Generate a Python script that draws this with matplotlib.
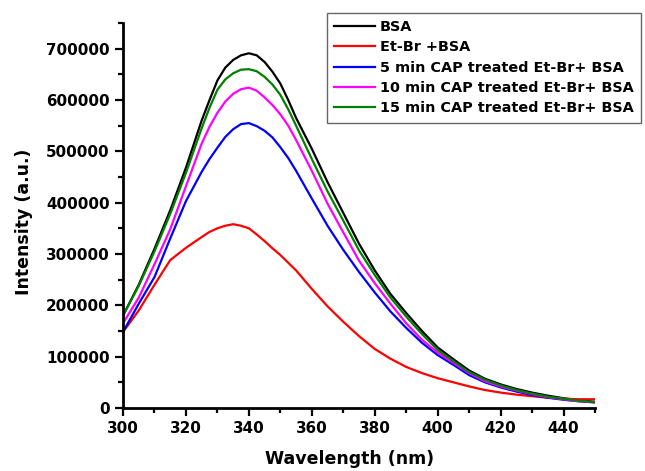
import numpy as np
import matplotlib.pyplot as plt
from matplotlib.ticker import MultipleLocator

plt.rcParams['font.family'] = ['DejaVu Sans']
plt.rcParams['font.weight'] = 'bold'

# wavelength grid (nm), finer around the maximum
wl = [300, 305, 310, 315, 320, 325, 327.5, 330, 332.5, 335, 337.5, 340, 342.5, 345,
      347.5, 350, 352.5, 355, 360, 365, 370, 375, 380, 385, 390, 395, 400, 405, 410,
      415, 420, 425, 430, 435, 440, 445, 450]

bsa = [180000, 240000, 310000, 385000, 468000, 560000, 600000, 638000, 663000, 678000,
       687000, 691000, 687000, 674000, 655000, 632000, 600000, 565000, 505000, 440000,
       380000, 320000, 268000, 222000, 185000, 150000, 118000, 95000, 73000, 57000,
       46000, 37000, 30000, 24000, 19000, 15000, 12000]
etbr = [148000, 190000, 240000, 288000, 312000, 333000, 343000, 350000, 355000, 358000,
        355000, 350000, 338000, 325000, 311000, 298000, 283000, 268000, 232000, 198000,
        168000, 140000, 115000, 96000, 80000, 68000, 58000, 50000, 42000, 35000,
        30000, 26000, 23000, 20000, 18000, 17000, 17000]
cap5 = [148000, 203000, 255000, 330000, 403000, 460000, 485000, 507000, 528000, 543000,
        553000, 555000, 549000, 540000, 527000, 508000, 487000, 462000, 408000, 355000,
        308000, 265000, 225000, 188000, 156000, 127000, 103000, 84000, 64000, 50000,
        40000, 32000, 25000, 20000, 16000, 13000, 11000]
cap10 = [165000, 215000, 280000, 348000, 432000, 515000, 548000, 575000, 597000, 612000,
         621000, 624000, 618000, 605000, 590000, 572000, 550000, 522000, 462000, 398000,
         342000, 287000, 243000, 203000, 165000, 133000, 108000, 88000, 68000, 52000,
         42000, 34000, 27000, 21000, 17000, 13000, 11000]
cap15 = [180000, 238000, 305000, 378000, 458000, 545000, 585000, 620000, 640000, 652000,
         659000, 660000, 656000, 645000, 630000, 610000, 582000, 550000, 485000, 422000,
         365000, 307000, 259000, 215000, 178000, 144000, 113000, 91000, 70000, 55000,
         44000, 35000, 28000, 22000, 18000, 14000, 11000]

series = [bsa, etbr, cap5, cap10, cap15]
labels = ['BSA', 'Et-Br +BSA', '5 min CAP treated Et-Br+ BSA',
          '10 min CAP treated Et-Br+ BSA', '15 min CAP treated Et-Br+ BSA']
colors = ['black', '#ff0000', '#0000ff', '#ff00ff', '#008000']

fig = plt.figure(figsize=(6.45, 4.71), dpi=100)
ax = fig.add_axes([0.1907, 0.1338, 0.7318, 0.8174])

for y, lab, c in zip(series, labels, colors):
    ax.plot(wl, y, color=c, linewidth=1.6, label=lab)

ax.set_xlim(300, 450)
ax.set_ylim(0, 750000)
ax.xaxis.set_major_locator(MultipleLocator(20))
ax.xaxis.set_minor_locator(MultipleLocator(10))
ax.yaxis.set_major_locator(MultipleLocator(100000))
ax.yaxis.set_minor_locator(MultipleLocator(50000))
ax.tick_params(which='major', direction='out', length=6, width=1.6, labelsize=10.9, pad=3.5)
ax.tick_params(which='minor', direction='out', length=3.5, width=1.6)

for s in ['top', 'right']:
    ax.spines[s].set_visible(False)
for s in ['left', 'bottom']:
    ax.spines[s].set_linewidth(2)

ax.set_xlabel('Wavelength (nm)', fontsize=12.5, fontweight='bold')
ax.set_ylabel('Intensity (a.u.)', fontsize=12.5, fontweight='bold')
ax.xaxis.set_label_coords(0.481, -0.109)
ax.yaxis.set_label_coords(-0.19, 0.483)

leg = ax.legend(loc='upper left', bbox_to_anchor=(0.507, 0.973), bbox_transform=fig.transFigure,
                borderaxespad=0, fontsize=10.4, handlelength=2.85, labelspacing=0.44,
                borderpad=0.5, handletextpad=0.32, fancybox=False, framealpha=1,
                edgecolor='#666666')
leg.get_frame().set_linewidth(1)
for t in leg.get_texts():
    t.set_fontweight('bold')

fig.savefig('out.png', dpi=100)
